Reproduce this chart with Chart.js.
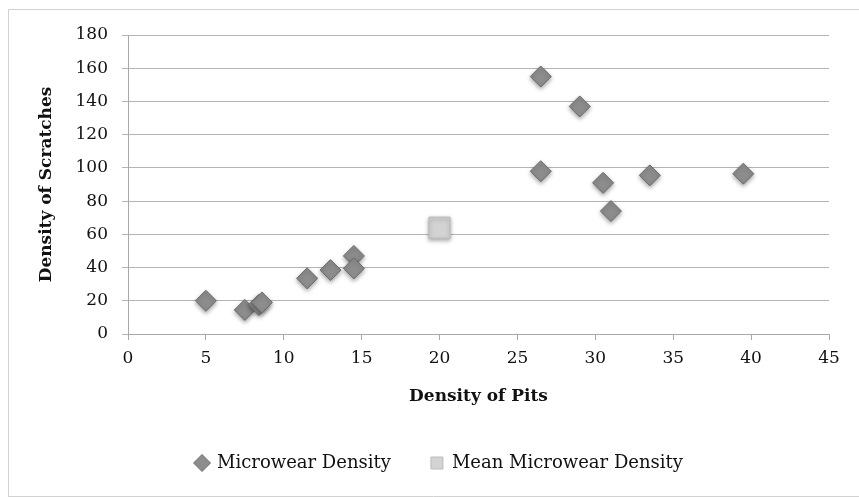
<!DOCTYPE html>
<html>
<head>
<meta charset="utf-8">
<title>Density of Pits vs Density of Scratches</title>
<script src="https://cdn.jsdelivr.net/npm/chart.js"></script>
<style>
  html, body { margin: 0; padding: 0; background: #fff; }
</style>
</head>
<body>
<canvas id="microwearChart" width="859" height="497"></canvas>
<script>
// data
var pitsDensity = [5, 7.5, 8.4, 8.6, 11.5, 13, 14.5, 14.5, 26.5, 29, 26.5, 30.5, 31, 33.5, 39.5];
var scratchDensity = [20, 14.5, 17.5, 19, 33.5, 38.5, 47, 39.5, 155, 137, 98, 91, 74, 95.5, 96.5];
var meanPits = [20];
var meanScratches = [64];

var seriesNames = ['Microwear Density', 'Mean Microwear Density'];
var xTitle = 'Density of Pits';
var yTitle = 'Density of Scratches';

function toPoints(xs, ys) {
    var pts = [];
    for (var i = 0; i < xs.length; i++) {
        pts.push({ x: xs[i], y: ys[i] });
    }
    return pts;
}

var serif = "'DejaVu Serif', 'Liberation Serif', serif";
var textColor = '#111';

// white page with the thin grey frame
var framePlugin = {
    id: 'frame',
    beforeDraw: function (chart) {
        var ctx = chart.ctx;
        ctx.save();
        ctx.fillStyle = '#fff';
        ctx.fillRect(0, 0, chart.width, chart.height);
        ctx.strokeStyle = '#d2d2d2';
        ctx.lineWidth = 1;
        ctx.beginPath();
        ctx.moveTo(8.5, chart.height);
        ctx.lineTo(8.5, 9.5);
        ctx.lineTo(chart.width, 9.5);
        ctx.moveTo(8.5, 496.5);
        ctx.lineTo(chart.width, 496.5);
        ctx.stroke();
        ctx.restore();
    }
};

// soft drop shadow under the markers
var shadowPlugin = {
    id: 'markerShadow',
    beforeDatasetDraw: function (chart) {
        var ctx = chart.ctx;
        ctx.save();
        ctx.shadowColor = 'rgba(0, 0, 0, 0.35)';
        ctx.shadowBlur = 4;
        ctx.shadowOffsetX = 0;
        ctx.shadowOffsetY = 2;
    },
    afterDatasetDraw: function (chart) {
        chart.ctx.restore();
    }
};

// legend is centred a little right of the canvas middle
var legendShift = {
    id: 'legendShift',
    afterLayout: function (chart) {
        if (chart.legend) {
            chart.legend.left += 20;
            chart.legend.right += 20;
        }
    }
};

var ctx = document.getElementById('microwearChart').getContext('2d');
new Chart(ctx, {
    type: 'scatter',
    data: {
        datasets: [
            {
                label: seriesNames[0],
                data: toPoints(pitsDensity, scratchDensity),
                pointStyle: 'rectRot',
                pointRadius: 10.5,
                pointHoverRadius: 10.5,
                backgroundColor: '#8d8d8d',
                borderColor: '#6c6c6c',
                borderWidth: 1
            },
            {
                label: seriesNames[1],
                data: toPoints(meanPits, meanScratches),
                pointStyle: 'rect',
                pointRadius: 15,
                pointHoverRadius: 15,
                backgroundColor: '#d3d3d3',
                borderColor: '#bcbcbc',
                borderWidth: 1
            }
        ]
    },
    options: {
        responsive: false,
        animation: false,
        layout: {
            padding: { left: 10, right: 30, top: 35, bottom: 15 }
        },
        plugins: {
            tooltip: { enabled: false },
            legend: {
                position: 'bottom',
                labels: {
                    usePointStyle: true,
                    boxWidth: 12,
                    boxHeight: 12,
                    padding: 40,
                    color: textColor,
                    font: { family: serif, size: 18 }
                }
            }
        },
        scales: {
            x: {
                type: 'linear',
                min: 0,
                max: 45,
                ticks: {
                    stepSize: 5,
                    padding: 8,
                    color: textColor,
                    font: { family: serif, size: 17 }
                },
                grid: {
                    drawOnChartArea: false,
                    drawTicks: true,
                    tickLength: 6,
                    color: '#a8a8a8'
                },
                border: { color: '#a8a8a8', width: 1 },
                title: {
                    display: true,
                    text: xTitle,
                    color: textColor,
                    font: { family: serif, size: 17, weight: 'bold' },
                    padding: { top: 0, bottom: 7 }
                },
                afterFit: function (scale) {
                    scale.height = 80;
                }
            },
            y: {
                type: 'linear',
                min: 0,
                max: 180,
                ticks: {
                    stepSize: 20,
                    padding: 14,
                    color: textColor,
                    font: { family: serif, size: 17 }
                },
                grid: {
                    drawOnChartArea: true,
                    drawTicks: true,
                    tickLength: 6,
                    color: '#b4b4b4'
                },
                border: { color: '#a8a8a8', width: 1 },
                title: {
                    display: true,
                    text: yTitle,
                    color: textColor,
                    font: { family: serif, size: 17, weight: 'bold' },
                    padding: { top: 26, bottom: 0 }
                },
                afterFit: function (scale) {
                    scale.width = 118;
                }
            }
        }
    },
    plugins: [framePlugin, shadowPlugin, legendShift]
});
</script>
</body>
</html>
